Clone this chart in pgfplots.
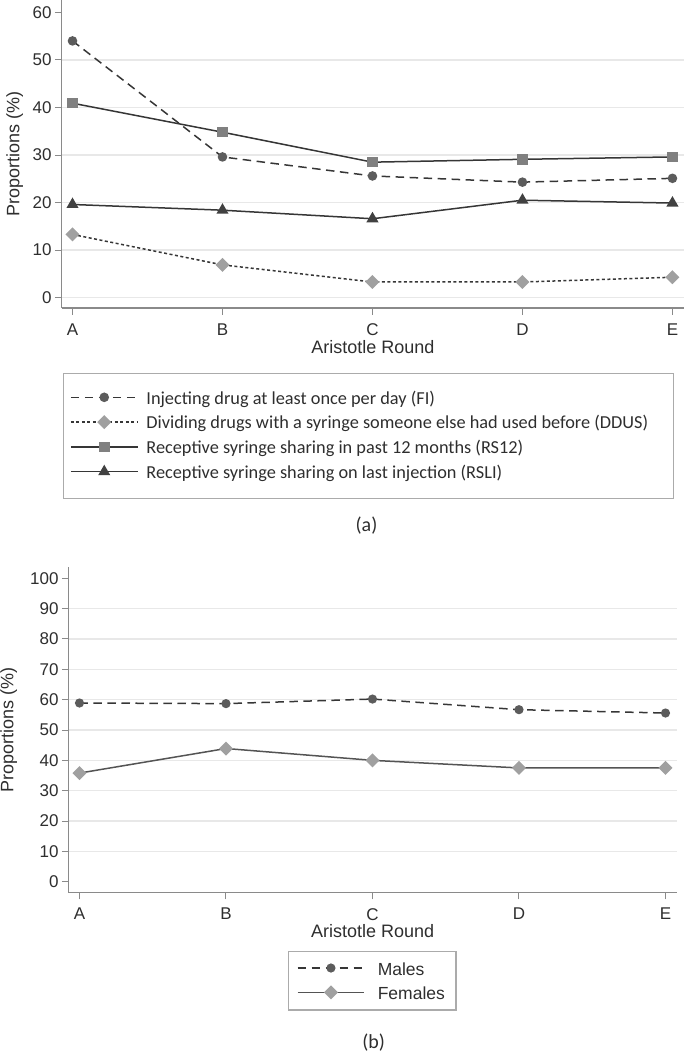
\documentclass[border=0pt]{standalone}
\usepackage{fontspec}
\setmainfont{Liberation Sans}
\newfontfamily\carlito{Carlito}
\usepackage{pgfplots}
\pgfplotsset{compat=1.18}

\definecolor{axgray}{HTML}{8A8A8A}
\definecolor{gridgray}{HTML}{E8E8E8}
\definecolor{txtgray}{HTML}{2E2E2E}
\definecolor{lineDark}{HTML}{363636}
\definecolor{markDark}{HTML}{5C5C5C}
\definecolor{markLight}{HTML}{A0A0A0}
\definecolor{markMid}{HTML}{808080}
\definecolor{markTri}{HTML}{414141}
\definecolor{legframe}{HTML}{ABABAB}

\pgfplotsset{
  mystyle/.style={
    scale only axis,
    axis x line=bottom, axis y line=left,
    axis line style={axgray, line width=1.3pt, -},
    every tick/.style={axgray, line width=1pt},
    major tick length=6.7pt,
    tick align=outside,
    xtick={0,1,2,3,4}, xticklabels={A,B,C,D,E},
    ymajorgrids, grid style={gridgray, line width=1.3pt},
    tick label style={font=\fontsize{17}{20}\selectfont, text=txtgray},
    /pgf/number format/assume math mode=true,
    xticklabel style={inner sep=0pt, anchor=north, yshift=-8.6pt},
    xlabel={Aristotle Round}, ylabel={Proportions (\%)},
    xlabel style={font=\fontsize{18}{21}\selectfont, text=txtgray, at={(rel axis cs:0.5,0)}, anchor=north, inner sep=0pt, yshift=-32pt},
    ylabel style={font=\fontsize{18}{21}\selectfont, text=txtgray, anchor=south, inner sep=0pt},
    clip=false,
  },
  fi/.style={lineDark, line width=1.5pt, dash pattern=on 8.5pt off 5.5pt, mark=*, mark size=4pt, mark options={solid, fill=markDark, draw=markDark}},
  dd/.style={lineDark, line width=1.5pt, dash pattern=on 3pt off 2.5pt, mark=square*, mark size=4.2pt, mark options={solid, rotate=45, fill=markLight, draw=markLight}},
  rs/.style={lineDark, line width=1.5pt, solid, mark=square*, mark size=4.5pt, mark options={solid, fill=markMid, draw=markMid}},
  rl/.style={lineDark, line width=1.5pt, solid, mark=triangle*, mark size=5.5pt, mark options={solid, fill=markTri, draw=markTri}},
}

\begin{document}
\begin{tikzpicture}
\path[use as bounding box] (0pt,0pt) rectangle (685pt,-1053pt);

\begin{axis}[mystyle,
  at={(61.7pt,-308pt)}, anchor=south west,
  width=622.3pt, height=308pt,
  xmin=-0.072, xmax=4.077, ymin=-2.17, ymax=62.6,
  ytick={0,10,...,50}, extra y ticks={60}, extra y tick style={grid=none},
  ylabel style={at={(axis description cs:-0.0617,0.5)}},
  legend image code/.code={
    \draw[mark repeat=2, mark phase=2, #1] plot coordinates {(0pt,1.95pt) (33.3pt,1.95pt) (66.7pt,1.95pt)};
  },
  legend style={at={(rel axis cs:0,0)}, anchor=north west, xshift=1.6pt, yshift=-65.3pt,
    draw=none, fill=none, inner xsep=6.7pt, inner ysep=17pt,
    font=\carlito\fontsize{18.3}{22}\selectfont, text=txtgray,
    row sep=7.3pt, column sep=8pt,
    nodes={inner sep=0pt, text height=13.5pt, text depth=4pt}},
  legend cell align=left,
]
\addplot[fi] coordinates {(0,54.0) (1,29.6) (2,25.6) (3,24.3) (4,25.1)};
\addlegendentry{Injecting drug at least once per day (FI)}
\addplot[dd] coordinates {(0,13.3) (1,6.9) (2,3.3) (3,3.3) (4,4.3)};
\addlegendentry{Dividing drugs with a syringe someone else had used before (DDUS)}
\addplot[rs] coordinates {(0,40.9) (1,34.8) (2,28.5) (3,29.1) (4,29.6)};
\addlegendentry{Receptive syringe sharing in past 12 months (RS12)}
\addplot[rl] coordinates {(0,19.6) (1,18.4) (2,16.6) (3,20.5) (4,19.9)};
\addlegendentry{Receptive syringe sharing on last injection (RSLI)}
\end{axis}
\draw[legframe, line width=1.2pt] (63.3pt,-373.3pt) rectangle (673.3pt,-498.3pt);

\node[font=\carlito\fontsize{20}{24}\selectfont, text=txtgray, inner sep=0pt] at (366.5pt,-525.8pt) {(a)};

\begin{axis}[mystyle,
  at={(68.7pt,-892.7pt)}, anchor=south west,
  width=608pt, height=325.4pt,
  xmin=-0.0737, xmax=4.0765, ymin=-3.63, ymax=103.63,
  ytick={10,20,...,90}, extra y ticks={0,100}, extra y tick style={grid=none},
  ylabel style={at={(axis description cs:-0.0845,0.5)}},
  legend image code/.code={
    \draw[mark repeat=2, mark phase=2, #1] plot coordinates {(0pt,0.7pt) (33.3pt,0.7pt) (66.7pt,0.7pt)};
  },
  legend style={at={(rel axis cs:0,0)}, anchor=north west, xshift=219.6pt, yshift=-59pt,
    draw=none, fill=none, inner xsep=8.4pt, inner ysep=10.5pt,
    font=\fontsize{17.5}{21}\selectfont, text=txtgray,
    row sep=11.4pt, column sep=12.7pt,
    nodes={inner sep=0pt, text height=12.6pt, text depth=0pt}},
  legend cell align=left,
]
\addplot[fi, mark size=3.8pt] coordinates {(0,58.9) (1,58.7) (2,60.2) (3,56.7) (4,55.6)};
\addlegendentry{Males}
\addplot[lineDark!85!white, line width=1.5pt, solid, mark=square*, mark size=4.2pt, mark options={solid, rotate=45, fill=markLight, draw=markLight}] coordinates {(0,35.8) (1,43.9) (2,40.0) (3,37.5) (4,37.5)};
\addlegendentry{Females}
\end{axis}
\draw[legframe, line width=1.2pt] (288.3pt,-951.7pt) rectangle (456pt,-1010pt);

\node[font=\carlito\fontsize{20}{24}\selectfont, text=txtgray, inner sep=0pt] at (373.7pt,-1042.5pt) {(b)};
\end{tikzpicture}
\end{document}
